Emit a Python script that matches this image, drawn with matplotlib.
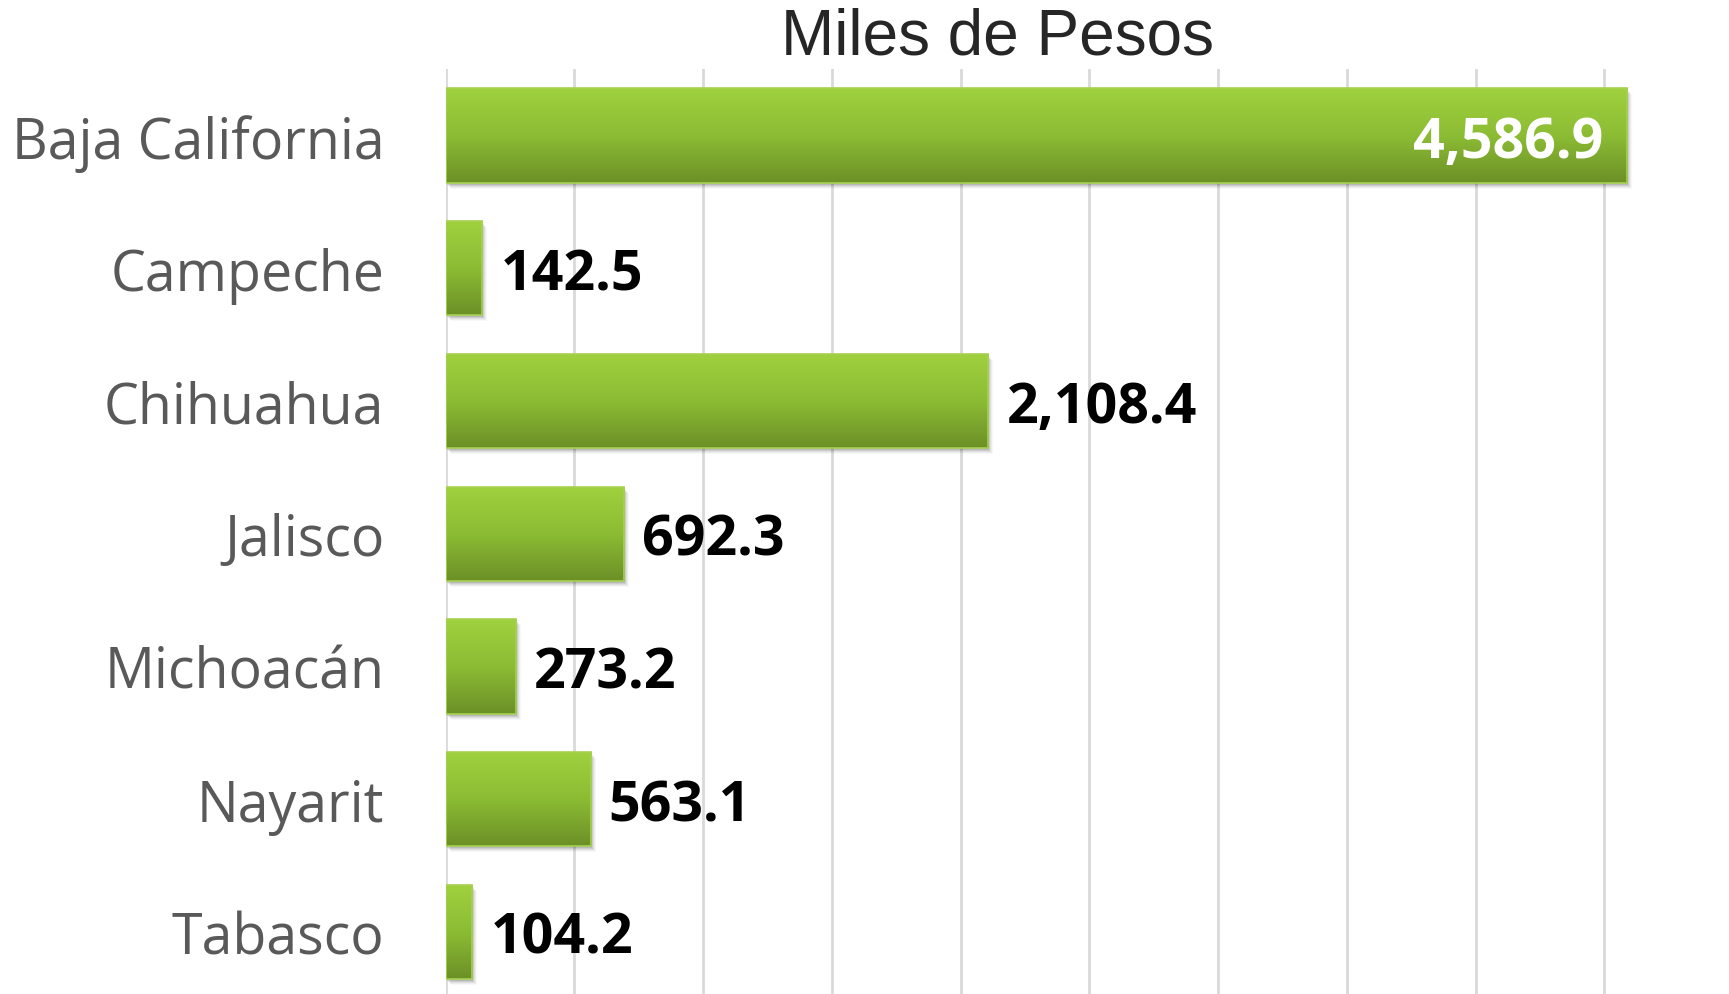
import numpy as np
import matplotlib
matplotlib.use("Agg")
import matplotlib.pyplot as plt
from matplotlib.colors import LinearSegmentedColormap
from matplotlib.patches import Rectangle
from matplotlib.transforms import ScaledTranslation

states = ["Baja California", "Campeche", "Chihuahua", "Jalisco",
          "Michoacán", "Nayarit", "Tabasco"]
values = [4586.9, 142.5, 2108.4, 692.3, 273.2, 563.1, 104.2]
title = "Miles de Pesos"

green = LinearSegmentedColormap.from_list("grn", ["#a0d13e", "#8cbc34", "#6b9027"])

fig = plt.figure(figsize=(17.29, 9.95), dpi=100)
ax = fig.add_axes([0.2577, -0.0043, 0.70, 0.9337])

h = 0.71
y = np.arange(len(states))
grad = np.linspace(0, 1, 256).reshape(-1, 1)

for i, v in enumerate(values):
    # soft drop shadow
    for k, a in zip(range(5), [0.10, 0.08, 0.06, 0.04, 0.03]):
        off = ScaledTranslation((1 + k) / 100, -(2 + k) / 100, fig.dpi_scale_trans)
        sh = Rectangle((0, y[i] - h / 2), v, h, facecolor="black", alpha=a,
                       edgecolor="none", transform=ax.transData + off, zorder=1)
        ax.add_patch(sh)
    bar = ax.barh(y[i], v, height=h, facecolor="none", edgecolor="#a6d152",
                  linewidth=1.2, zorder=3)[0]
    im = ax.imshow(grad, cmap=green, aspect="auto", origin="upper",
                   extent=(0, v, y[i] + h / 2, y[i] - h / 2), zorder=2,
                   interpolation="bilinear")
    im.set_clip_path(bar)

    lab = f"{v:,.1f}"
    if v > 4000:
        ax.text(v - 90, y[i], lab, ha="right", va="center_baseline", color="white",
                fontsize=40, fontweight="bold", family="Open Sans", zorder=4)
    else:
        ax.text(v + 70, y[i], lab, ha="left", va="center_baseline", color="black",
                fontsize=40, fontweight="bold", family="Open Sans", zorder=4)

ax.set_xlim(0, 4700)
ax.set_ylim(6.5, -0.5)
ax.set_xticks(np.arange(0, 4501, 500))
ax.grid(axis="x", color="#d9d9d9", linewidth=2)
ax.set_axisbelow(True)
ax.tick_params(axis="x", length=0, labelbottom=False)
ax.tick_params(axis="y", length=0, pad=44)
ax.set_yticks(y)
ax.set_yticklabels(states, fontsize=40, color="#595959", family="Open Sans")
for s in ax.spines.values():
    s.set_visible(False)

fig.text(0.577, 0.962, title, ha="center", va="center", fontsize=46,
         family="Liberation Sans", color="#262626")

fig.savefig("out.png", dpi=100)
